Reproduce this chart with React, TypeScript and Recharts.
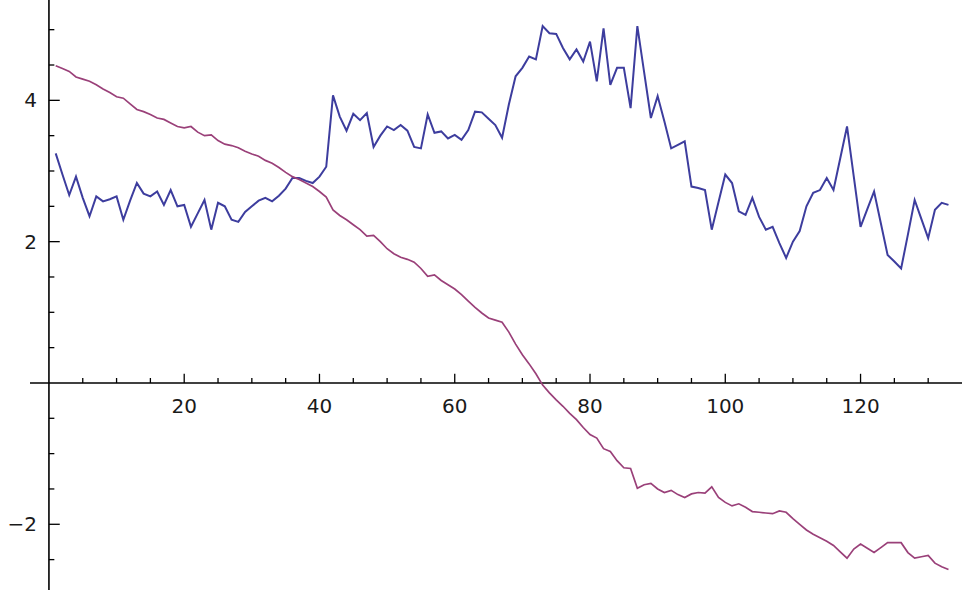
import { LineChart, Line, XAxis, YAxis, ReferenceLine } from 'recharts';

// values, one per x = 1..133
const blueValues = [
  3.25, 2.95, 2.66, 2.92, 2.62, 2.36, 2.64, 2.57, 2.6, 2.64,
  2.31, 2.58, 2.83, 2.68, 2.64, 2.71, 2.52, 2.73, 2.5, 2.52,
  2.21, 2.4, 2.59, 2.17, 2.55, 2.5, 2.31, 2.28, 2.42, 2.5,
  2.58, 2.62, 2.57, 2.65, 2.75, 2.9, 2.9, 2.86, 2.83, 2.92,
  3.06, 4.07, 3.77, 3.57, 3.81, 3.72, 3.82, 3.34, 3.5, 3.63,
  3.58, 3.65, 3.57, 3.34, 3.32, 3.8, 3.54, 3.56, 3.46, 3.51,
  3.44, 3.58, 3.84, 3.83, 3.74, 3.65, 3.47, 3.94, 4.34, 4.46,
  4.62, 4.58, 5.05, 4.95, 4.94, 4.74, 4.58, 4.72, 4.55, 4.83,
  4.27, 5.02, 4.22, 4.46, 4.46, 3.89, 5.05, 4.4, 3.75, 4.06,
  3.7, 3.32, 3.37, 3.42, 2.78, 2.76, 2.73, 2.17, 2.56, 2.95,
  2.83, 2.43, 2.38, 2.62, 2.35, 2.17, 2.21, 1.98, 1.77, 2.0,
  2.15, 2.5, 2.69, 2.73, 2.9, 2.73, 3.18, 3.63, 2.92, 2.21,
  2.46, 2.71, 2.26, 1.81, 1.72, 1.62, 2.1, 2.59, 2.32, 2.05,
  2.45, 2.55, 2.52,
];

const purpleValues = [
  4.49, 4.45, 4.41, 4.33, 4.3, 4.27, 4.22, 4.16, 4.11, 4.05,
  4.03, 3.95, 3.87, 3.84, 3.8, 3.75, 3.73, 3.68, 3.63, 3.61,
  3.63, 3.55, 3.5, 3.51, 3.43, 3.38, 3.36, 3.33, 3.28, 3.24,
  3.21, 3.15, 3.11, 3.05, 2.98, 2.92, 2.88, 2.83, 2.78, 2.71,
  2.63, 2.45, 2.37, 2.31, 2.24, 2.17, 2.08, 2.09, 2.0, 1.9,
  1.83, 1.78, 1.75, 1.71, 1.62, 1.51, 1.53, 1.45, 1.39, 1.33,
  1.25, 1.16, 1.07, 0.99, 0.92, 0.89, 0.86, 0.72, 0.55, 0.4,
  0.27, 0.13, -0.03, -0.14, -0.24, -0.33, -0.43, -0.52, -0.63, -0.73,
  -0.78, -0.93, -0.97, -1.1, -1.2, -1.21, -1.49, -1.44, -1.42, -1.5,
  -1.55, -1.52, -1.58, -1.62, -1.57, -1.55, -1.56, -1.47, -1.62, -1.69,
  -1.74, -1.71, -1.76, -1.82, -1.83, -1.84, -1.85, -1.81, -1.83, -1.92,
  -2.0, -2.08, -2.14, -2.19, -2.24, -2.3, -2.39, -2.48, -2.35, -2.28,
  -2.34, -2.4, -2.33, -2.26, -2.26, -2.26, -2.4, -2.48, -2.46, -2.44,
  -2.55, -2.6, -2.64,
];

const xMajorTicks = [20, 40, 60, 80, 100, 120];
const xMinorTicks = [5, 10, 15, 25, 30, 35, 45, 50, 55, 65, 70, 75, 85, 90, 95, 105, 110, 115, 125, 130];
const yMajorTicks = [-2, 2, 4];
const yMinorTicks = [-2.5, -1.5, -1, -0.5, 0.5, 1, 1.5, 2.5, 3, 3.5, 4.5, 5];

const data = blueValues.map((b, i) => ({ x: i + 1, blue: b, purple: purpleValues[i] }));

const fmt = (v: number) => (v < 0 ? '\u2212' + Math.abs(v) : String(v));

const labelStyle = {
  fontSize: 20,
  fill: '#1a1a1a',
  fontFamily: 'DejaVu Sans, Verdana, sans-serif',
};

export default function App() {
  return (
    <div style={{ position: 'absolute', left: 0, top: 0, width: 962, height: 590, background: '#fff' }}>
      <LineChart width={962} height={590} data={data} margin={{ top: 0, right: 0, bottom: 0, left: 30 }}>
        <XAxis type="number" dataKey="x" domain={[-2.8, 135]} allowDataOverflow hide height={0} />
        <YAxis type="number" domain={[-2.93, 5.42]} allowDataOverflow hide width={0} />

        <ReferenceLine y={0} stroke="#000" strokeWidth={1.6} />
        <ReferenceLine x={0} stroke="#000" strokeWidth={1.6} />

        {xMinorTicks.map((t) => (
          <ReferenceLine key={'xm' + t} segment={[{ x: t, y: 0 }, { x: t, y: 0.07 }]} stroke="#000" strokeWidth={1.3} />
        ))}
        {xMajorTicks.map((t) => (
          <ReferenceLine
            key={'xM' + t}
            segment={[{ x: t, y: 0 }, { x: t, y: 0.13 }]}
            stroke="#000"
            strokeWidth={1.3}
            label={{ value: fmt(t), position: 'bottom', offset: 16, ...labelStyle }}
          />
        ))}
        {yMinorTicks.map((t) => (
          <ReferenceLine key={'ym' + t} segment={[{ x: 0, y: t }, { x: 0.8, y: t }]} stroke="#000" strokeWidth={1.3} />
        ))}
        {yMajorTicks.map((t) => (
          <ReferenceLine
            key={'yM' + t}
            segment={[{ x: 0, y: t }, { x: 1.6, y: t }]}
            stroke="#000"
            strokeWidth={1.3}
            label={{ value: fmt(t), position: 'left', offset: 12, ...labelStyle }}
          />
        ))}

        <Line type="linear" dataKey="blue" stroke="#3d3d9e" strokeWidth={2} dot={false} isAnimationActive={false} />
        <Line type="linear" dataKey="purple" stroke="#9a4079" strokeWidth={1.7} dot={false} isAnimationActive={false} />
      </LineChart>
    </div>
  );
}
